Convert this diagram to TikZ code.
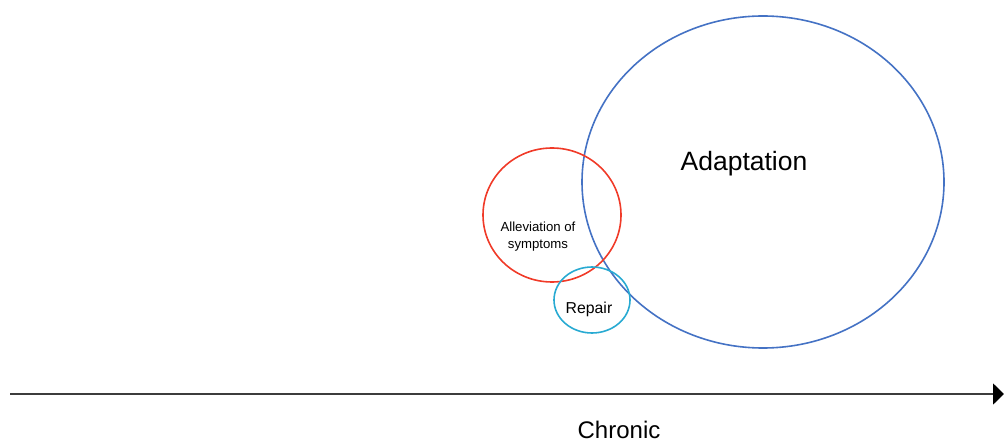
\documentclass[tikz,border=0pt]{standalone}
\usepackage{fontspec}
\setmainfont{Liberation Sans}
\usepackage{xcolor}
\usetikzlibrary{shapes.geometric, arrows.meta}
\usetikzlibrary{positioning}
\definecolor{adaptblue}{RGB}{68,114,196}
\definecolor{reliefred}{RGB}{240,58,40}
\definecolor{repaircyan}{RGB}{40,170,210}
\definecolor{axisgray}{RGB}{60,60,60}

\begin{document}
\begin{tikzpicture}[x=1pt,y=1pt,semithick]
		\tikzstyle{blob}=[ellipse,draw,line width=1.6pt,inner sep=0pt]
		\useasboundingbox (0,0) rectangle (1004,442);
		\node[blob,draw=adaptblue,minimum width=362pt,minimum height=332pt]  (A) at (763,260) {};
		\node[blob,draw=reliefred,minimum width=138pt,minimum height=134pt]  (B) at (552,227) {};
		\node[blob,draw=repaircyan,minimum width=76pt,minimum height=66pt]   (C) at (592,142) {};
		\node[font=\fontsize{26.5}{30}\selectfont]  (a) at (744,278) {Adaptation};
		\node[font=\fontsize{13.2}{17}\selectfont,align=center] (b) at (538,205) {Alleviation of\\symptoms};
		\node[font=\fontsize{15.8}{18}\selectfont]  (c) at (589,133) {Repair};
		\coordinate (S) at (10,48);
		\coordinate (E) at (1004,48);
		\draw[axisgray,line width=1.8pt,-{Triangle[length=11pt,width=21pt,fill=black,color=black]}] (S) -- (E);
		\node[font=\fontsize{24}{28}\selectfont] (d) at (619,12) {Chronic};
	\end{tikzpicture}
\end{document}
